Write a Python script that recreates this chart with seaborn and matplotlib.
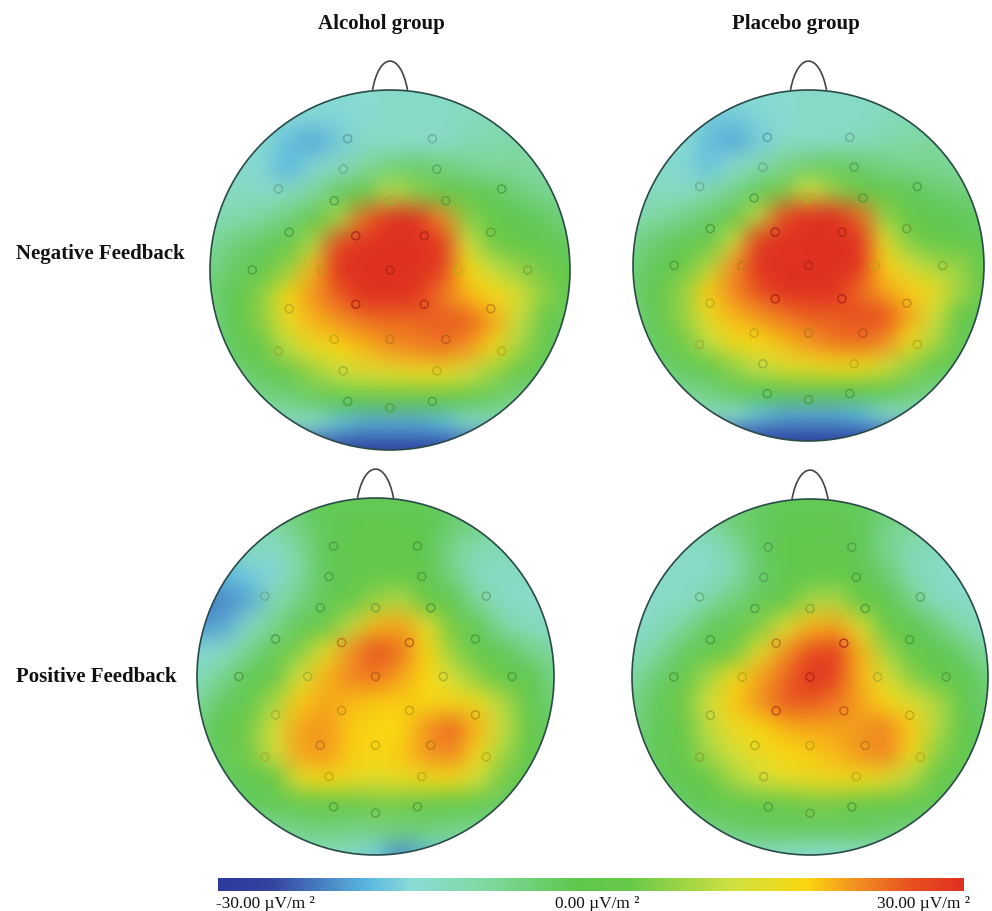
import numpy as np
import seaborn as sns
import matplotlib.pyplot as plt
from matplotlib.colors import LinearSegmentedColormap, Normalize
from matplotlib.patches import Circle, PathPatch
from matplotlib.path import Path

W, H = 992, 912

groups = ['Alcohol group', 'Placebo group']
feedback = ['Negative Feedback', 'Positive Feedback']
scale_labels = ['-30.00 µV/m ²', '0.00 µV/m ²', '30.00 µV/m ²']

# potential maps (µV/m²), top row = nose side
neg_alcohol = [
    [-13, -13, -13, -14, -14, -14, -14, -13, -13, -13, -12, -12, -12, -12, -12],
    [-14, -14, -15, -15, -15, -15, -14, -13, -13, -13, -12, -11, -11, -11, -11],
    [-14, -14, -14, -17, -19, -16, -13, -13, -13, -13, -11, -10, -9, -9, -9],
    [-13, -13, -15, -18, -15, -12, -8, -5, -4, -5, -7, -8, -8, -9, -9],
    [-12, -12, -13, -12, -8, -3, 3, 10, 6, 3, 0, -2, -5, -7, -7],
    [-11, -10, -8, -5, 0, 8, 24, 32, 32, 22, 6, 1, -1, -3, -6],
    [-8, -5, -3, 0, 9, 27, 34, 36, 36, 29, 12, 4, 2, 0, -3],
    [-6, -3, 1, 7, 19, 32, 36, 38, 36, 28, 17, 11, 7, 4, -1],
    [-5, -1, 6, 17, 21, 25, 31, 33, 29, 23, 19, 17, 13, 6, 0],
    [-6, -1, 6, 15, 19, 21, 23, 24, 24, 25, 25, 20, 11, 3, -3],
    [-6, -2, 3, 10, 15, 17, 19, 21, 22, 23, 21, 16, 8, 0, -4],
    [-7, -5, -2, 2, 7, 11, 13, 14, 15, 15, 12, 7, 2, -2, -5],
    [-9, -9, -7, -5, -3, -1, 1, 2, 2, 1, 0, -3, -6, -8, -9],
    [-14, -14, -13, -13, -14, -17, -19, -19, -19, -18, -15, -13, -12, -12, -12],
    [-34, -34, -34, -34, -34, -34, -34, -34, -34, -34, -34, -34, -34, -34, -34],
]
neg_placebo = [
    [-13, -13, -13, -14, -14, -14, -14, -13, -13, -13, -12, -12, -12, -12, -12],
    [-14, -14, -15, -16, -16, -15, -14, -13, -13, -13, -12, -11, -11, -11, -11],
    [-14, -14, -14, -17, -19, -16, -13, -13, -13, -12, -10, -9, -8, -8, -8],
    [-13, -13, -15, -17, -14, -11, -7, -4, -3, -4, -6, -7, -7, -8, -8],
    [-12, -12, -13, -11, -7, -2, 4, 12, 7, 3, 0, -2, -4, -5, -5],
    [-10, -9, -7, -4, 1, 10, 26, 33, 33, 24, 7, 1, -1, -2, -4],
    [-7, -4, -2, 1, 11, 28, 35, 37, 37, 30, 14, 5, 2, 0, -2],
    [-5, -2, 3, 9, 21, 33, 37, 38, 37, 30, 18, 12, 8, 7, 1],
    [-4, 0, 7, 18, 22, 26, 32, 34, 30, 24, 20, 18, 15, 8, 1],
    [-5, 0, 7, 15, 19, 21, 23, 25, 25, 26, 26, 20, 12, 3, -2],
    [-6, -2, 4, 11, 16, 17, 19, 21, 23, 24, 22, 16, 9, 0, -4],
    [-7, -4, -2, 2, 7, 11, 14, 15, 16, 16, 13, 7, 2, -2, -5],
    [-9, -9, -7, -5, -2, -1, 1, 2, 2, 1, 0, -3, -6, -8, -9],
    [-14, -14, -13, -13, -14, -17, -19, -19, -19, -18, -15, -13, -12, -12, -12],
    [-34, -34, -34, -34, -34, -34, -34, -34, -34, -34, -34, -34, -34, -34, -34],
]
pos_alcohol = [
    [-4, -4, -4, -4, -3, -2, -2, -2, -2, -2, -3, -4, -4, -4, -4],
    [-9, -9, -9, -9, -5, -2, 0, 0, 0, -1, -4, -6, -8, -8, -8],
    [-13, -13, -12, -13, -8, -2, 0, 1, 1, -1, -7, -11, -11, -10, -10],
    [-18, -18, -16, -15, -9, -2, 0, 1, 1, 0, -6, -12, -13, -12, -12],
    [-22, -21, -19, -11, -6, -2, 2, 7, 9, 3, -1, -8, -13, -13, -13],
    [-20, -19, -13, -7, -2, 3, 10, 19, 20, 14, 4, -2, -9, -12, -13],
    [-15, -13, -7, -2, 5, 14, 21, 26, 23, 17, 7, 0, -2, -6, -9],
    [-12, -7, -2, 2, 12, 19, 22, 23, 20, 17, 12, 6, 1, -1, -6],
    [-8, -3, 0, 8, 18, 20, 19, 18, 18, 17, 16, 15, 9, 0, -5],
    [-5, -1, 4, 12, 20, 21, 18, 17, 17, 21, 24, 19, 11, 2, -3],
    [-4, -2, 4, 12, 20, 21, 18, 17, 18, 21, 22, 16, 8, 1, -3],
    [-4, -3, -1, 3, 14, 17, 15, 14, 15, 16, 16, 12, 4, -1, -3],
    [-5, -4, -3, -2, 0, 2, 3, 4, 4, 3, 1, 0, -3, -4, -5],
    [-8, -8, -7, -7, -6, -5, -6, -6, -5, -5, -6, -7, -7, -8, -8],
    [-12, -12, -12, -12, -12, -12, -13, -16, -21, -17, -13, -12, -12, -12, -12],
]
pos_placebo = [
    [-4, -4, -4, -4, -4, -3, -2, -2, -2, -3, -4, -4, -4, -4, -4],
    [-9, -9, -9, -9, -5, -3, -1, 0, 0, -2, -6, -8, -9, -9, -9],
    [-13, -13, -13, -13, -9, -3, 0, 0, 0, -2, -7, -11, -12, -12, -12],
    [-13, -13, -13, -13, -10, -4, -1, 0, 1, 0, -4, -11, -13, -13, -13],
    [-13, -13, -13, -9, -5, -2, 1, 8, 9, 3, -1, -6, -12, -13, -13],
    [-14, -12, -8, -3, 0, 5, 13, 19, 20, 13, 3, -1, -5, -10, -13],
    [-12, -8, -3, 0, 4, 14, 21, 26, 28, 19, 8, 1, -1, -4, -9],
    [-9, -4, 1, 8, 16, 20, 24, 31, 27, 19, 13, 6, 1, -1, -5],
    [-7, -2, 4, 12, 18, 21, 25, 25, 23, 20, 17, 13, 9, 0, -4],
    [-6, -2, 3, 10, 15, 17, 19, 20, 20, 21, 22, 18, 9, 1, -3],
    [-5, -2, 2, 8, 12, 15, 17, 18, 19, 21, 22, 16, 6, 0, -3],
    [-5, -3, -1, 3, 8, 12, 14, 15, 16, 16, 14, 9, 2, -2, -4],
    [-6, -5, -3, -1, 0, 1, 3, 4, 4, 3, 2, 0, -2, -4, -6],
    [-9, -8, -7, -6, -4, -3, -3, -3, -3, -3, -4, -5, -7, -8, -9],
    [-13, -13, -13, -13, -13, -13, -13, -14, -14, -13, -13, -13, -13, -13, -13],
]

# electrode positions, fraction of the head radius
elec_x = [-.235, .235, -.26, .26, -.62, .62, -.31, 0, .31, -.56, -.19, .19, .56,
          -.765, -.38, 0, .38, .765, -.56, -.19, .19, .56, -.31, 0, .31,
          -.62, .62, -.26, .26, -.235, .235, 0]
elec_y = [-.73, -.73, -.56, -.56, -.45, -.45, -.385, -.385, -.385, -.21, -.19, -.19, -.21,
          0, 0, 0, 0, 0, .215, .19, .19, .215, .385, .385, .385,
          .45, .45, .56, .56, .73, .73, .765]

cmap_stops = [0, .07, .2, .26, .36, .48, .55, .69, .79, .86, .93, 1]
cmap_colors = ['#2b3a9c', '#34439f', '#5ab8e0', '#8adcd4', '#7fd8a0', '#5ec84e',
               '#66c84a', '#cfe040', '#fbd60f', '#f28c22', '#e8501f', '#e03020']
eeg = LinearSegmentedColormap.from_list('eeg', list(zip(cmap_stops, cmap_colors)))
norm = Normalize(-30, 30)

sns.set_theme(style='white')
plt.rcParams['font.family'] = ['Liberation Serif', 'DejaVu Serif']

fig = plt.figure(figsize=(W / 100, H / 100), dpi=100)


def px_axes(left, top, right, bottom):
    return fig.add_axes([left / W, 1 - bottom / H, (right - left) / W, (bottom - top) / H])


def px_text(x, y, s, **kw):
    fig.text(x / W, 1 - y / H, s, color='#111111', va='center', **kw)


def soften(img, dpi):
    # the source picture is a soft scan, this takes the facets off the gouraud mesh
    radius = 22
    k = np.exp(-0.5 * (np.arange(-radius, radius + 1) / 7.5) ** 2)
    k = k / k.sum()
    out = np.pad(img, radius, mode='edge')[:, :, radius:-radius]
    for axis in (0, 1):
        out = np.apply_along_axis(lambda v: np.convolve(v, k, mode='same'), axis, out)
    return out[radius:-radius, radius:-radius], 0, 0


def head(cx, cy, r, ear_w, grid, cbar_ax=None):
    ax = px_axes(cx - r, cy - r, cx + r, cy + r)
    n = len(grid) - 1
    opts = dict(cbar=False)
    if cbar_ax is not None:
        opts = dict(cbar=True, cbar_ax=cbar_ax,
                    cbar_kws={'orientation': 'horizontal', 'ticks': []})
    vals = np.array(grid)
    sns.heatmap(vals, ax=ax, cmap=eeg, vmin=-30, vmax=30, shading='gouraud',
                xticklabels=False, yticklabels=False, **opts)
    ax.collections[0].set_agg_filter(soften)

    # white over everything outside the head
    square = Path([(0, 0), (0, n), (n, n), (n, 0), (0, 0)], closed=True)
    mask = Path.make_compound_path(square, Path.circle((n / 2, n / 2), n / 2))
    ax.add_patch(PathPatch(mask, fc='white', ec='none', zorder=2))
    ax.add_patch(Circle((n / 2, n / 2), n / 2, fc='none', ec='#2a4a48', lw=1.2, zorder=4,
                        clip_on=False))

    ex = n / 2 + np.array(elec_x) * n / 2
    ey = n / 2 + np.array(elec_y) * n / 2
    ring = eeg(norm(vals[np.rint(ey).astype(int), np.rint(ex).astype(int)]))
    ring[:, :3] *= 0.8
    sns.scatterplot(x=ex, y=ey, ax=ax, s=34, facecolor='none', edgecolor=ring, linewidth=1.0,
                    zorder=3)

    # ear is a little dome over the rim
    u = n / (2 * r)
    hw, h = ear_w / 2 * u, 29 * u
    ear = Path([(n / 2 - hw, 0), (n / 2 - .6 * hw, -1.33 * h),
                (n / 2 + .6 * hw, -1.33 * h), (n / 2 + hw, 0)],
               [Path.MOVETO, Path.CURVE4, Path.CURVE4, Path.CURVE4])
    ax.add_patch(PathPatch(ear, fc='none', ec='#444444', lw=1.2, clip_on=False))
    ax.set_xlim(0, n)
    ax.set_ylim(n, 0)
    ax.set_aspect('equal')
    ax.set_axis_off()


cax = px_axes(218, 879, 964, 892)
head(390, 271, 180, 35, neg_alcohol, cbar_ax=cax)
head(808.5, 266.5, 175.5, 36, neg_placebo)
head(375.5, 677.5, 178.5, 36, pos_alcohol)
head(810, 678, 178, 36, pos_placebo)
for spine in cax.spines.values():
    spine.set_visible(False)

px_text(381.5, 24, groups[0], ha='center', fontsize=15, fontweight='bold')
px_text(796, 24, groups[1], ha='center', fontsize=15, fontweight='bold')
px_text(16, 254, feedback[0], ha='left', fontsize=15, fontweight='bold')
px_text(16, 677, feedback[1], ha='left', fontsize=15, fontweight='bold')
px_text(216, 904, scale_labels[0], ha='left', fontsize=12.4)
px_text(597.5, 904, scale_labels[1], ha='center', fontsize=12.4)
px_text(970, 904, scale_labels[2], ha='right', fontsize=12.4)

plt.savefig('out.png', dpi=100)
